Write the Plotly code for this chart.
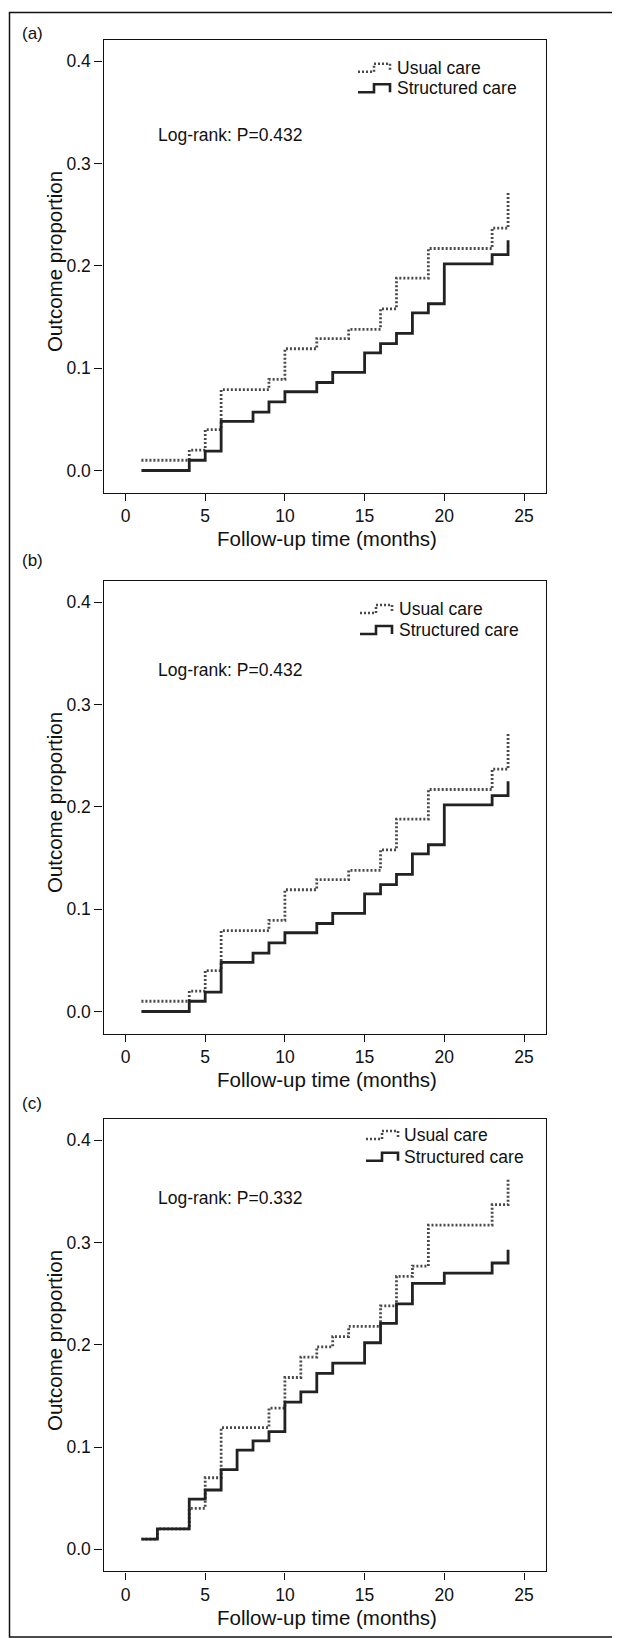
import plotly.graph_objects as go

# ---------------- data ----------------
months_a_usual = [1, 4, 5, 6, 9, 10, 12, 14, 16, 17, 19, 23, 24]
prop_a_usual = [0.010, 0.020, 0.040, 0.079, 0.089, 0.119, 0.129, 0.138, 0.158, 0.188, 0.217, 0.237, 0.272]
months_a_struct = [1, 4, 5, 6, 8, 9, 10, 12, 13, 15, 16, 17, 18, 19, 20, 23, 24]
prop_a_struct = [0.000, 0.010, 0.019, 0.048, 0.057, 0.067, 0.077, 0.086, 0.096, 0.115, 0.124, 0.134, 0.154, 0.163, 0.202, 0.211, 0.225]

months_b_usual = [1, 4, 5, 6, 9, 10, 12, 14, 16, 17, 19, 23, 24]
prop_b_usual = [0.010, 0.020, 0.040, 0.079, 0.089, 0.119, 0.129, 0.138, 0.158, 0.188, 0.217, 0.237, 0.272]
months_b_struct = [1, 4, 5, 6, 8, 9, 10, 12, 13, 15, 16, 17, 18, 19, 20, 23, 24]
prop_b_struct = [0.000, 0.010, 0.019, 0.048, 0.057, 0.067, 0.077, 0.086, 0.096, 0.115, 0.124, 0.134, 0.154, 0.163, 0.202, 0.211, 0.225]

months_c_usual = [1, 2, 4, 5, 6, 9, 10, 11, 12, 13, 14, 16, 17, 18, 19, 23, 24]
prop_c_usual = [0.010, 0.020, 0.040, 0.070, 0.119, 0.138, 0.168, 0.188, 0.198, 0.208, 0.218, 0.238, 0.267, 0.277, 0.317, 0.337, 0.362]
months_c_struct = [1, 2, 4, 5, 6, 7, 8, 9, 10, 11, 12, 13, 15, 16, 17, 18, 20, 23, 24]
prop_c_struct = [0.010, 0.020, 0.049, 0.058, 0.078, 0.097, 0.106, 0.115, 0.144, 0.154, 0.172, 0.182, 0.202, 0.221, 0.240, 0.260, 0.270, 0.280, 0.293]

series_names = ["Usual care", "Structured care"]
panel_labels = ["(a)", "(b)", "(c)"]
logrank_texts = ["Log-rank: P=0.432", "Log-rank: P=0.432", "Log-rank: P=0.332"]
x_title = "Follow-up time (months)"
y_title = "Outcome proportion"
x_ticks = [0, 5, 10, 15, 20, 25]
y_ticks = [0.0, 0.1, 0.2, 0.3, 0.4]
y_ticktext = ["0.0", "0.1", "0.2", "0.3", "0.4"]

panels = [
    (months_a_usual, prop_a_usual, months_a_struct, prop_a_struct),
    (months_b_usual, prop_b_usual, months_b_struct, prop_b_struct),
    (months_c_usual, prop_c_usual, months_c_struct, prop_c_struct),
]

# ---------------- layout geometry (page pixels) ----------------
W, H = 620, 1638
OFF = 8.0  # page body margin compensation
FONT = "Liberation Sans, Arial, Helvetica, sans-serif"
plot_left, plot_right = 103.5, 546.0
plot_tops = [39.7, 580.7, 1118.7]
plot_bottoms = [492.5, 1033.5, 1571.3]
label_y = [34.0, 560.0, 1103.0]
logrank_y = [135.0, 670.0, 1198.3]
legend_rows = [(67.7, 88.3), (609.0, 630.0), (1135.0, 1156.7)]
legend_text_x = [396.6, 398.6, 404.0]
legend_glyph_x = [358.0, 360.0, 366.0]

USUAL_COLOR = "#4a4a4a"
STRUCT_COLOR = "#222222"


def xp(px):
    return (px - OFF) / W


def yp(py):
    return 1 - (py - OFF) / H


fig = go.Figure()
annotations = []
shapes = []

for i, (mu, pu, ms, ps) in enumerate(panels):
    n = "" if i == 0 else str(i + 1)
    xa, ya = "x" + n, "y" + n
    fig.add_trace(go.Scatter(
        x=mu, y=pu, mode="lines", line=dict(shape="hv", color=USUAL_COLOR, width=2.8, dash="2px,2px"),
        name=series_names[0], showlegend=False, xaxis=xa, yaxis=ya))
    fig.add_trace(go.Scatter(
        x=ms, y=ps, mode="lines", line=dict(shape="hv", color=STRUCT_COLOR, width=2.8),
        name=series_names[1], showlegend=False, xaxis=xa, yaxis=ya))

    axis_common = dict(showline=True, mirror=True, linecolor="#111", linewidth=1.4,
                       showgrid=False, zeroline=False, ticks="outside", tickcolor="#111",
                       tickwidth=1.3, tickfont=dict(family=FONT, size=17.5, color="#111"))
    fig.layout["xaxis" + n] = dict(
        domain=[xp(plot_left), xp(plot_right)], anchor=ya, range=[-1.38, 26.38],
        tickmode="array", tickvals=x_ticks, ticklen=7, **axis_common)
    fig.layout["yaxis" + n] = dict(
        domain=[yp(plot_bottoms[i]), yp(plot_tops[i])], anchor=xa, range=[-0.0215, 0.4211],
        tickmode="array", tickvals=y_ticks, ticktext=y_ticktext, ticklen=8, **axis_common)

    # panel label
    annotations.append(dict(text=panel_labels[i], xref="paper", yref="paper", x=xp(20), y=yp(label_y[i]),
                            xanchor="left", yanchor="middle", showarrow=False,
                            font=dict(family=FONT, size=17, color="#111")))
    # log-rank text
    annotations.append(dict(text=logrank_texts[i], xref="paper", yref="paper", x=xp(156), y=yp(logrank_y[i]),
                            xanchor="left", yanchor="middle", showarrow=False,
                            font=dict(family=FONT, size=17.5, color="#111")))
    # axis titles
    annotations.append(dict(text=x_title, xref="paper", yref="paper",
                            x=xp((plot_left + plot_right) / 2 + 2), y=yp(plot_bottoms[i] + 46),
                            xanchor="center", yanchor="middle", showarrow=False,
                            font=dict(family=FONT, size=20.5, color="#111")))
    annotations.append(dict(text=y_title, xref="paper", yref="paper", textangle=-90,
                            x=xp(54), y=yp((plot_tops[i] + plot_bottoms[i]) / 2 - 4),
                            xanchor="center", yanchor="middle", showarrow=False,
                            font=dict(family=FONT, size=20.5, color="#111")))
    # manual legend: text
    for k, name in enumerate(series_names):
        annotations.append(dict(text=name, xref="paper", yref="paper", x=xp(legend_text_x[i] - 2),
                                y=yp(legend_rows[i][k]), xanchor="left", yanchor="middle", showarrow=False,
                                font=dict(family=FONT, size=17.5, color="#111")))
    # manual legend: small step glyphs
    for k, (col, dash) in enumerate([(USUAL_COLOR, "2px,2px"), (STRUCT_COLOR, "solid")]):
        gx = legend_glyph_x[i]
        gy = legend_rows[i][k]
        path = "M {a},{b} L {c},{b} L {c},{d} L {e},{d} L {e},{b}".format(
            a=xp(gx), b=yp(gy + 4), c=xp(gx + 16), d=yp(gy - 4), e=xp(gx + 32))
        shapes.append(dict(type="path", xref="paper", yref="paper", path=path,
                           line=dict(color=col, width=2.6, dash=dash)))

# outer frame
shapes.append(dict(type="rect", xref="paper", yref="paper", x0=xp(9.5), x1=xp(619), y0=yp(1637), y1=yp(12.5),
                   line=dict(color="#111", width=1.5)))

fig.update_layout(
    width=W, height=H, margin=dict(l=0, r=0, t=0, b=0),
    paper_bgcolor="white", plot_bgcolor="white",
    font=dict(family=FONT, color="#111"),
    annotations=annotations, shapes=shapes, showlegend=False,
)

fig.write_html("out.html")
